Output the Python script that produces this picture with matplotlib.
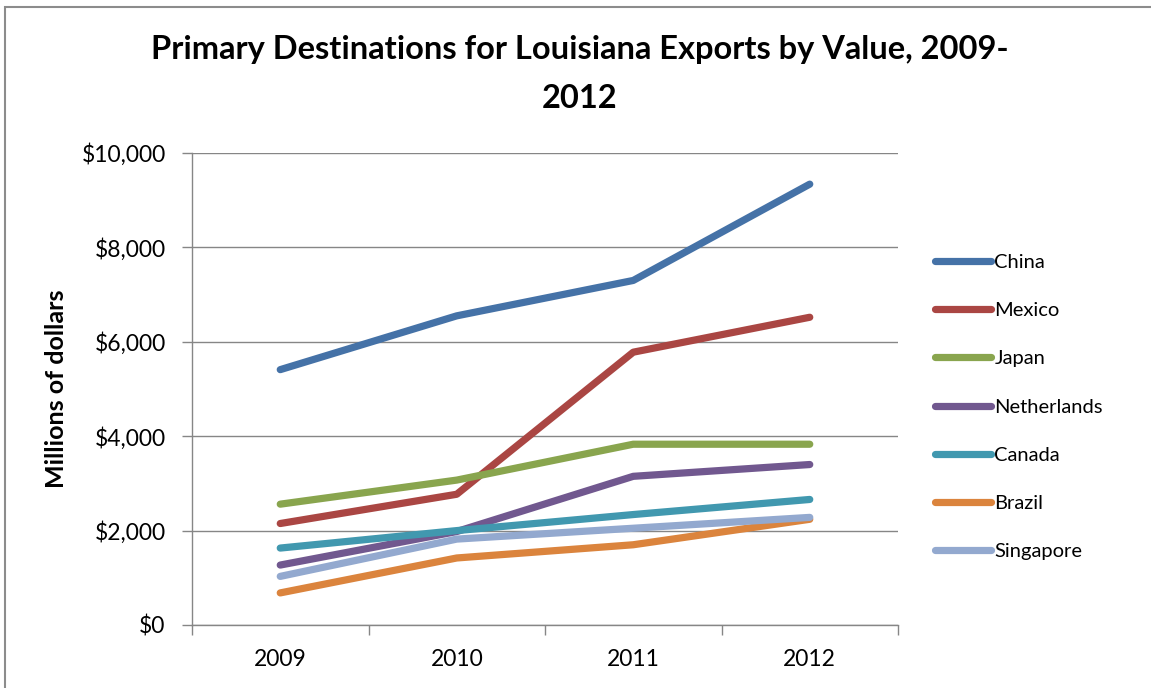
import matplotlib
matplotlib.use("Agg")
import matplotlib.pyplot as plt
from matplotlib.patches import Rectangle
from matplotlib.ticker import FuncFormatter, FixedLocator

years = ["2009", "2010", "2011", "2012"]
china = [5410, 6550, 7300, 9340]
mexico = [2150, 2770, 5780, 6520]
japan = [2560, 3070, 3830, 3830]
netherlands = [1270, 1980, 3150, 3400]
canada = [1630, 2000, 2340, 2660]
brazil = [680, 1420, 1700, 2240]
singapore = [1030, 1820, 2050, 2280]

series = [
    ("China", china, "#4572A7"),
    ("Mexico", mexico, "#AA4643"),
    ("Japan", japan, "#89A54E"),
    ("Netherlands", netherlands, "#71588F"),
    ("Canada", canada, "#4198AF"),
    ("Brazil", brazil, "#DB843D"),
    ("Singapore", singapore, "#93A9CF"),
]

plt.rcParams["font.family"] = ["Lato", "DejaVu Sans"]

W, H = 1151, 688
fig = plt.figure(figsize=(W / 100, H / 100), dpi=100)

# chart border (partially visible)
fig.patches.append(Rectangle((5 / W, -0.1), 1.2, 1 - 7 / H + 0.1, transform=fig.transFigure,
                             fill=False, edgecolor="#8c8c8c", linewidth=1.5))

ax = fig.add_axes([192 / W, 1 - 625 / H, (898 - 192) / W, (625 - 153) / H])
x = list(range(len(years)))
for name, vals, col in series:
    ax.plot(x, vals, color=col, linewidth=5.2, solid_capstyle="round",
            solid_joinstyle="round", label=name)

ax.set_xlim(-0.5, len(years) - 0.5)
ax.set_ylim(0, 10000)
ax.set_yticks(range(0, 10001, 2000))
ax.yaxis.set_major_formatter(FuncFormatter(lambda v, p: f"${v:,.0f}"))
ax.set_xticks(x)
ax.set_xticklabels(years)
ax.xaxis.set_minor_locator(FixedLocator([i - 0.5 for i in range(len(years) + 1)]))
ax.tick_params(axis="x", which="major", length=0, labelsize=16.5, pad=17, colors="#000000")
ax.tick_params(axis="x", which="minor", length=7, width=1, color="#868686")
ax.tick_params(axis="y", length=7, width=1, color="#868686", labelsize=16.5, pad=12)
ax.grid(axis="y", color="#868686", linewidth=1)
ax.set_axisbelow(True)
for s in ["top", "right"]:
    ax.spines[s].set_visible(False)
for s in ["left", "bottom"]:
    ax.spines[s].set_color("#868686")
    ax.spines[s].set_linewidth(1)

fig.text(57 / W, 1 - 389 / H, "Millions of dollars", rotation=90, ha="center", va="center",
         fontsize=18, fontweight="bold")

fig.text(580 / W, 1 - 50 / H, "Primary Destinations for Louisiana Exports by Value, 2009-",
         ha="center", va="center", fontsize=23.5, fontweight="bold")
fig.text(580 / W, 1 - 98 / H, "2012", ha="center", va="center", fontsize=23.5, fontweight="bold")

leg = fig.legend(loc="center left", bbox_to_anchor=(935 / W, 1 - 407 / H), frameon=False,
                 fontsize=14.5, handlelength=2.8, handletextpad=0.15, labelspacing=1.55,
                 borderaxespad=0, borderpad=0)
for line in leg.get_lines():
    line.set_linewidth(5.2)
    line.set_solid_capstyle("round")

fig.savefig("out.png", dpi=100)
